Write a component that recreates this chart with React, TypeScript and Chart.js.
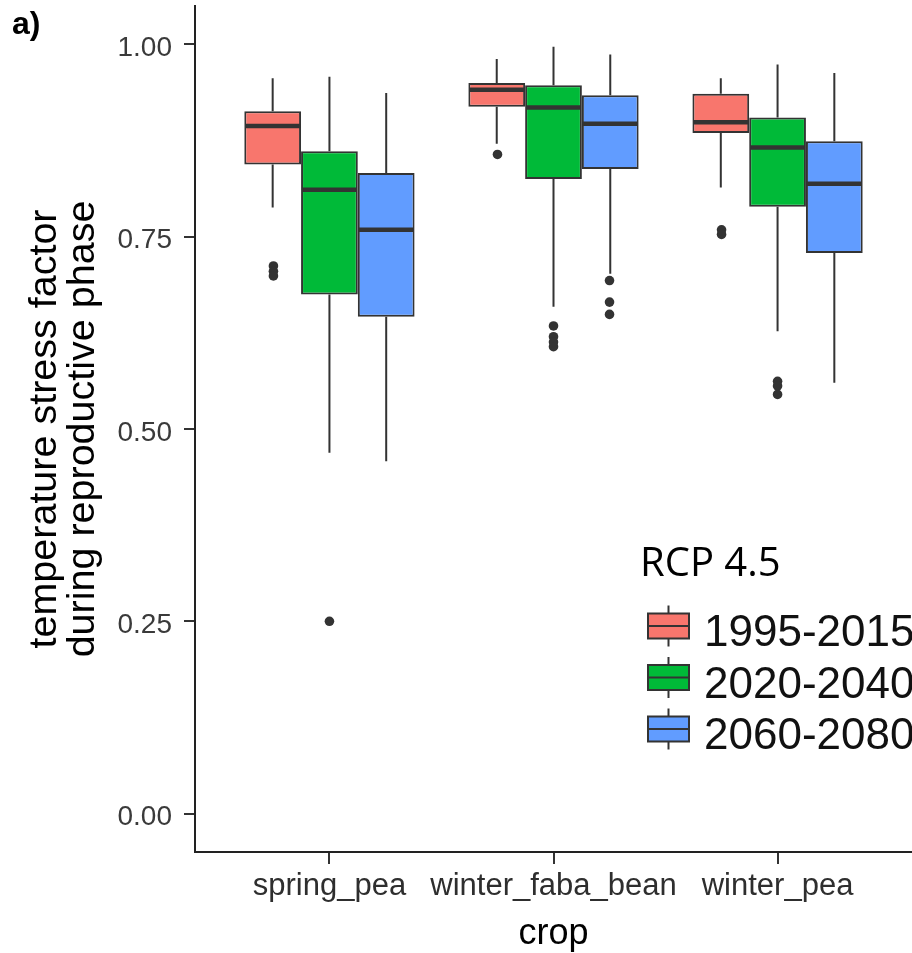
import React, { useEffect, useRef } from 'react';
import { Chart, registerables } from 'chart.js';

Chart.register(...registerables);

// ---------- data ----------
const crops = ['spring_pea', 'winter_faba_bean', 'winter_pea'];
const periods = ['1995-2015', '2020-2040', '2060-2080'];
const fills = ['#F8766D', '#00BA38', '#619CFF'];
const yTicks = [0, 0.25, 0.5, 0.75, 1.0];

// five-number summaries, one value per crop
const min1995 = [0.788, 0.871, 0.814];
const q1_1995 = [0.844, 0.919, 0.885];
const med1995 = [0.894, 0.941, 0.899];
const q3_1995 = [0.913, 0.950, 0.936];
const max1995 = [0.956, 0.981, 0.956];
const out1995 = [[0.712, 0.705, 0.699], [0.857], [0.759, 0.753]];

const min2020 = [0.469, 0.659, 0.627];
const q1_2020 = [0.675, 0.825, 0.789];
const med2020 = [0.811, 0.918, 0.866];
const q3_2020 = [0.861, 0.947, 0.905];
const max2020 = [0.958, 0.997, 0.974];
const out2020 = [[0.250], [0.634, 0.620, 0.613, 0.607], [0.562, 0.556, 0.545]];

const min2060 = [0.458, 0.702, 0.560];
const q1_2060 = [0.646, 0.838, 0.729];
const med2060 = [0.759, 0.897, 0.819];
const q3_2060 = [0.833, 0.934, 0.874];
const max2060 = [0.937, 0.987, 0.963];
const out2060 = [[], [0.693, 0.665, 0.649], []];

const mins = [min1995, min2020, min2060];
const q1s = [q1_1995, q1_2020, q1_2060];
const meds = [med1995, med2020, med2060];
const q3s = [q3_1995, q3_2020, q3_2060];
const maxs = [max1995, max2020, max2060];
const outs = [out1995, out2020, out2060];

const legendTitle = 'RCP 4.5';
const panelTag = 'a)';
const yTitle = ['temperature stress factor', 'during reproductive phase'];
const xTitle = 'crop';

// ---------- style ----------
const SANS = "'Liberation Sans', Arial, Helvetica, sans-serif";
const INK = '#333333';
const DODGE = 0.25; // ggplot dodge width per group (0.75 / 3)

const boxPlugin = {
  id: 'boxParts',
  afterDatasetsDraw(chart: any) {
    const ctx = chart.ctx;
    const yS = chart.scales.y;
    chart.data.datasets.forEach((ds: any, di: number) => {
      if (ds.type !== 'bar') return;
      const meta = chart.getDatasetMeta(di);
      const k = ds.periodIndex;
      meta.data.forEach((bar: any, j: number) => {
        const x = bar.x;
        const half = bar.width / 2;
        ctx.save();
        ctx.strokeStyle = INK;
        ctx.lineWidth = 2;
        ctx.beginPath();
        ctx.moveTo(x, yS.getPixelForValue(q3s[k][j]));
        ctx.lineTo(x, yS.getPixelForValue(maxs[k][j]));
        ctx.moveTo(x, yS.getPixelForValue(q1s[k][j]));
        ctx.lineTo(x, yS.getPixelForValue(mins[k][j]));
        ctx.stroke();
        ctx.lineWidth = 4.5;
        ctx.beginPath();
        const ym = yS.getPixelForValue(meds[k][j]);
        ctx.moveTo(x - half + 1, ym);
        ctx.lineTo(x + half - 1, ym);
        ctx.stroke();
        ctx.restore();
      });
    });
  },
  afterDraw(chart: any) {
    const ctx = chart.ctx;
    ctx.save();
    // panel tag
    ctx.fillStyle = '#000';
    ctx.font = `bold 32px ${SANS}`;
    ctx.textBaseline = 'alphabetic';
    ctx.textAlign = 'left';
    ctx.fillText(panelTag, 12, 34);
    // legend title
    ctx.font = `40px 'Open Sans', 'Noto Sans', sans-serif`;
    ctx.fillText(legendTitle, 640, 576);
    // legend keys
    const keyX = 648, keyW = 41, keyH = 25, rowY0 = 626, rowStep = 51.5;
    let row = 0;
    chart.data.datasets.forEach((ds: any) => {
      if (ds.type !== 'bar') return;
      const cy = rowY0 + row * rowStep;
      const cx = keyX + keyW / 2;
      ctx.strokeStyle = INK;
      ctx.lineWidth = 2;
      ctx.beginPath();
      ctx.moveTo(cx, cy - keyH / 2 - 8);
      ctx.lineTo(cx, cy + keyH / 2 + 8);
      ctx.stroke();
      ctx.fillStyle = ds.backgroundColor;
      ctx.fillRect(keyX, cy - keyH / 2, keyW, keyH);
      ctx.strokeRect(keyX, cy - keyH / 2, keyW, keyH);
      ctx.beginPath();
      ctx.moveTo(keyX, cy);
      ctx.lineTo(keyX + keyW, cy);
      ctx.stroke();
      ctx.fillStyle = '#111';
      ctx.font = `44px ${SANS}`;
      ctx.fillText(ds.label, 704, cy + 20);
      row++;
    });
    ctx.restore();
  },
};

function buildConfig(): any {
  const barSets = periods.map((p, k) => ({
    type: 'bar',
    label: p,
    periodIndex: k,
    data: crops.map((_, j) => ({ x: j + 1, y: [q1s[k][j], q3s[k][j]] })),
    backgroundColor: fills[k],
    borderColor: INK,
    borderWidth: 2,
    borderSkipped: false,
    categoryPercentage: 0.76,
    barPercentage: 1.0,
    order: 1,
  }));
  const outlierSets = periods.map((p, k) => ({
    type: 'scatter',
    label: p + ' outliers',
    data: outs[k].flatMap((vals, j) =>
      vals.map((v) => ({ x: j + 1 + (k - 1) * DODGE, y: v }))
    ),
    backgroundColor: INK,
    borderWidth: 0,
    pointRadius: 4.8,
    pointHoverRadius: 4.8,
    order: 0,
  }));
  return {
    type: 'bar',
    data: { datasets: [...barSets, ...outlierSets] },
    plugins: [boxPlugin],
    options: {
      animation: false,
      responsive: false,
      maintainAspectRatio: false,
      events: [],
      layout: { autoPadding: false, padding: { top: 6, left: 0, right: 0, bottom: 0 } },
      plugins: { legend: { display: false }, tooltip: { enabled: false } },
      scales: {
        x: {
          type: 'linear',
          offset: false,
          min: 0.4,
          max: 3.6,
          afterBuildTicks: (s: any) => {
            s.ticks = crops.map((_, i) => ({ value: i + 1 }));
          },
          afterFit: (s: any) => {
            s.height = 101;
            s.paddingLeft = 0;
            s.paddingRight = 0;
          },
          grid: {
            display: true,
            offset: false,
            drawOnChartArea: false,
            drawTicks: true,
            tickLength: 12,
            color: INK,
            lineWidth: 2,
          },
          border: { display: true, color: '#222', width: 2 },
          ticks: {
            callback: (v: any) => crops[Math.round(Number(v)) - 1] ?? '',
            font: { family: SANS, size: 31 },
            color: '#2e2e2e',
            padding: 4,
            maxRotation: 0,
            autoSkip: false,
          },
          title: {
            display: true,
            text: xTitle,
            font: { family: SANS, size: 36 },
            color: '#000',
            padding: { top: 0, bottom: -3 },
          },
        },
        y: {
          type: 'linear',
          min: -0.05,
          max: 1.05,
          beginAtZero: false,
          afterBuildTicks: (s: any) => {
            s.ticks = yTicks.map((v) => ({ value: v }));
          },
          afterFit: (s: any) => {
            s.width = 195;
            s.paddingTop = 0;
            s.paddingBottom = 0;
          },
          grid: {
            display: true,
            drawOnChartArea: false,
            drawTicks: true,
            tickLength: 11,
            color: INK,
            lineWidth: 2,
          },
          border: { display: true, color: '#222', width: 2 },
          ticks: {
            callback: (v: any) => Number(v).toFixed(2),
            font: { family: SANS, size: 28 },
            color: '#3a3a3a',
            padding: 12,
            labelOffset: 4,
          },
          title: {
            display: true,
            text: yTitle,
            font: { family: SANS, size: 39.5, lineHeight: 0.97 },
            color: '#000',
            padding: { top: 26, bottom: 0 },
          },
        },
      },
    },
  };
}

export default function App() {
  const ref = useRef<HTMLCanvasElement>(null);
  useEffect(() => {
    if (!ref.current) return;
    const chart = new Chart(ref.current, buildConfig());
    return () => chart.destroy();
  }, []);
  return (
    <div style={{ position: 'absolute', left: 0, top: 0, width: 912, height: 953, background: '#fff' }}>
      <canvas ref={ref} width={912} height={953} style={{ width: 912, height: 953, display: 'block' }} />
    </div>
  );
}
